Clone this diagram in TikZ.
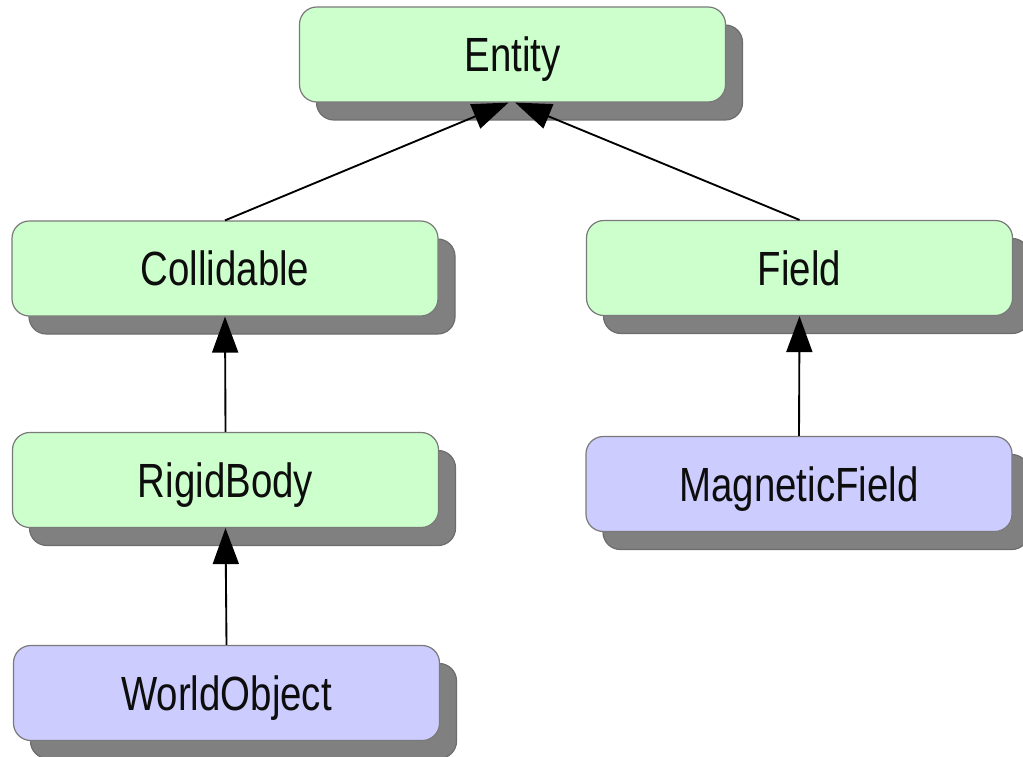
\documentclass[tikz,border=0pt]{standalone}
\usepackage{fontspec}
\setmainfont{Liberation Sans}[FakeStretch=0.8]
\usetikzlibrary{arrows.meta,shadows}

\definecolor{classgreen}{HTML}{CCFFCC}
\definecolor{classblue}{HTML}{CCCCFF}
\definecolor{boxedge}{HTML}{7A7A7A}
\definecolor{shadowgray}{HTML}{808080}

\tikzset{
  classbox/.style={
    rounded corners=13pt, draw=boxedge, line width=0.9pt,
    minimum width=319.5pt, minimum height=71.25pt, inner sep=0pt,
    text height=25.8pt, text depth=0pt,
    font=\fontsize{36}{40}\selectfont, text=black!95,
    general shadow={fill=shadowgray, draw=shadowgray!85!black,
      shadow xshift=12.75pt, shadow yshift=-13.5pt}},
  baseclass/.style={classbox, fill=classgreen},
  leafclass/.style={classbox, fill=classblue},
  inherits/.style={line width=1.4pt, draw=black,
    -{Triangle[length=27pt,width=19.5pt]}},
}

\begin{document}
\begin{tikzpicture}[x=0.75pt,y=-0.75pt]
  \useasboundingbox (0,0) rectangle (1023,756);

  % class hierarchy
  \node[baseclass] (entity)      at (512.5,54.5) {Entity};
  \node[baseclass] (collidable)  at (225,268.5)  {Collidable};
  \node[baseclass] (field)       at (799.5,268)  {Field};
  \node[baseclass] (rigidbody)   at (225.5,480)  {RigidBody};
  \node[leafclass] (magnetic)    at (799,484)    {MagneticField};
  \node[leafclass] (worldobject) at (226.5,693)  {WorldObject};

  % inheritance links, child -> parent
  \draw[inherits] (collidable.north) -- ([xshift=-3pt]entity.south);
  \draw[inherits] (field.north) -- ([xshift=2pt]entity.south);
  \draw[inherits] (rigidbody.north) -- (collidable.south);
  \draw[inherits] (worldobject.north) -- (rigidbody.south);
  \draw[inherits] (magnetic.north) -- (field.south);
\end{tikzpicture}
\end{document}
